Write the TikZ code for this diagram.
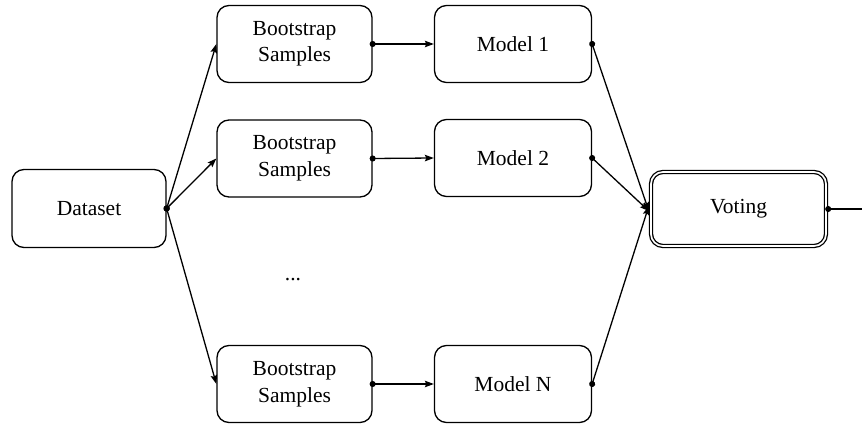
\documentclass[tikz,border=0pt]{standalone}
\usepackage{fontspec}
\setmainfont{Liberation Serif}
\usetikzlibrary{arrows.meta}

\begin{document}
\begin{tikzpicture}[x=1pt, y=-1pt, line width=1.3pt, black,
    box/.style={draw, rounded corners=12pt, minimum width=155pt, minimum height=77pt,
        align=center, inner sep=0pt, font=\fontsize{21.5}{26.5}\selectfont},
    votebox/.style={box, double, double distance=1.7pt, minimum width=175pt,
        minimum height=74pt, outer sep=2.2pt},
    link/.style={{Circle[length=6pt]}-{Stealth[length=9pt, width=6.5pt, inset=1.5pt]},
        shorten <=-3pt}]

    % Fix the page to the size of the reference
    \useasboundingbox (0,0) rectangle (862,427);

    % Draw the boxes
    \node[box, minimum width=154pt, minimum height=78pt] (data) at (89, 208.5) {Dataset};

    \node[box] (boot1) at (294.5, 44) {Bootstrap\\Samples};
    \node[box] (boot2) at (294.5, 158.5) {Bootstrap\\Samples};
    \node[box] (bootN) at (294.5, 384) {Bootstrap\\Samples};

    \node[box, minimum width=157pt] (model1) at (513, 44) {Model 1};
    \node[box, minimum width=157pt] (model2) at (513, 158) {Model 2};
    \node[box, minimum width=157pt] (modelN) at (513, 384) {Model N};

    \node[font=\fontsize{21.5}{26.5}\selectfont] (dots) at (293, 280) {...};

    \node[votebox] (voting) at (738.5, 209) {Voting};
    \coordinate (out) at (878, 209);

    % Draw the connections
    \draw[link] (data.east) -- (boot1.west);
    \draw[link] (data.east) -- (boot2.west);
    \draw[link] (data.east) -- (bootN.west);

    \draw[link] (boot1.east) -- (model1.west);
    \draw[link] (boot2.east) -- (model2.west);
    \draw[link] (bootN.east) -- (modelN.west);

    \draw[link] (model1.east) -- ([yshift=-2pt]voting.west);
    \draw[link] (model2.east) -- ([yshift=-2pt]voting.west);
    \draw[link] (modelN.east) -- ([yshift=3pt]voting.west);

    \draw[link] (voting.east) -- (out);
\end{tikzpicture}
\end{document}
